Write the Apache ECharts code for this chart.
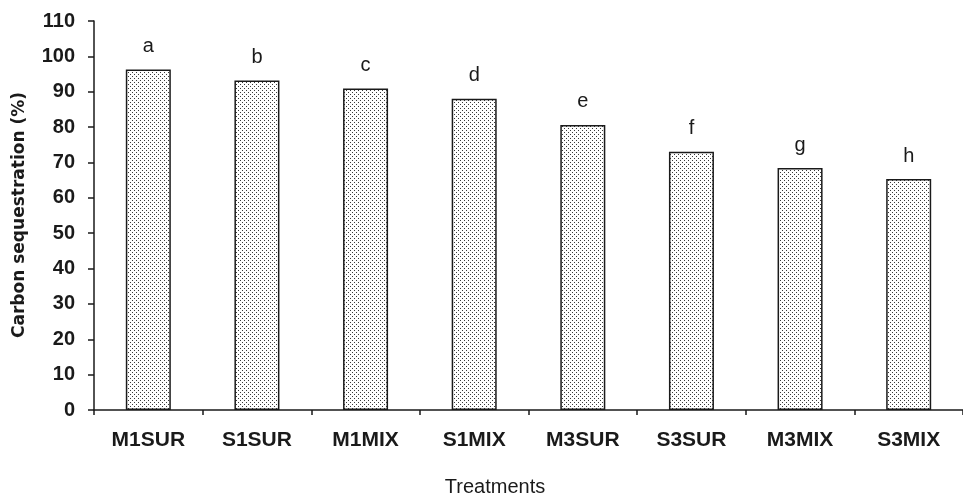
<!DOCTYPE html>
<html>
<head>
<meta charset="utf-8">
<script src="https://cdn.jsdelivr.net/npm/echarts@6/dist/echarts.min.js"></script>
<style>
  html, body { margin: 0; padding: 0; background: #fff; }
  #chart { width: 963px; height: 502px; }
</style>
</head>
<body>
<div id="chart"></div>
<script>
// Treatments and their carbon sequestration (%)
const treatments = ['M1SUR', 'S1SUR', 'M1MIX', 'S1MIX', 'M3SUR', 'S3SUR', 'M3MIX', 'S3MIX'];
const sequestration = [96.3, 93.2, 90.9, 88.0, 80.6, 73.0, 68.4, 65.3];
const groupLetters = ['a', 'b', 'c', 'd', 'e', 'f', 'g', 'h'];

// Stippled fill for the bars: a small tile with two offset dots
function stipple() {
  const c = document.createElement('canvas');
  c.width = 4; c.height = 4;
  const g = c.getContext('2d');
  g.fillStyle = '#ffffff';
  g.fillRect(0, 0, 4, 4);
  g.fillStyle = '#3a3a3a';
  g.fillRect(0, 0, 1, 1);
  g.fillRect(2, 2, 1, 1);
  return c;
}

const chart = echarts.init(document.getElementById('chart'), null, { renderer: 'canvas' });
const ink = '#1a1a1a';

chart.setOption({
  animation: false,
  backgroundColor: '#ffffff',
  grid: { left: 94, top: 21, width: 877, height: 389, containLabel: false },
  xAxis: {
    type: 'category',
    data: treatments,
    axisLine: { lineStyle: { color: ink, width: 1.5 } },
    axisTick: { show: true, length: 5, alignWithLabel: false, lineStyle: { color: ink, width: 1.5 } },
    axisLabel: {
      margin: 20, color: ink, fontSize: 21, fontWeight: 'bold',
      fontFamily: '"Liberation Sans", Arial, sans-serif'
    }
  },
  yAxis: {
    type: 'value',
    min: 0, max: 110, interval: 10,
    splitLine: { show: false },
    axisLine: { show: true, lineStyle: { color: ink, width: 1.5 } },
    axisTick: { show: true, length: 6, lineStyle: { color: ink, width: 1.5 } },
    axisLabel: {
      margin: 19, color: ink, fontSize: 20, fontWeight: 'bold',
      fontFamily: '"Liberation Sans", Arial, sans-serif'
    }
  },
  graphic: [
    {
      type: 'text',
      rotation: Math.PI / 2,
      x: 20, y: 215,
      style: {
        text: 'Carbon sequestration (%)',
        fill: ink,
        font: 'bold 17px "DejaVu Sans", sans-serif',
        align: 'center', verticalAlign: 'middle'
      }
    },
    {
      type: 'text',
      x: 495, y: 487,
      style: {
        text: 'Treatments',
        fill: ink,
        font: '20px "Liberation Sans", Arial, sans-serif',
        align: 'center', verticalAlign: 'middle'
      }
    }
  ],
  series: [{
    type: 'bar',
    data: sequestration,
    barWidth: 45,
    itemStyle: {
      color: { image: stipple(), repeat: 'repeat' },
      borderColor: ink,
      borderWidth: 1.5
    },
    label: {
      show: true,
      position: 'top',
      distance: 13,
      color: ink,
      fontSize: 20,
      fontFamily: '"Liberation Sans", Arial, sans-serif',
      formatter: p => groupLetters[p.dataIndex]
    }
  }]
});
</script>
</body>
</html>
